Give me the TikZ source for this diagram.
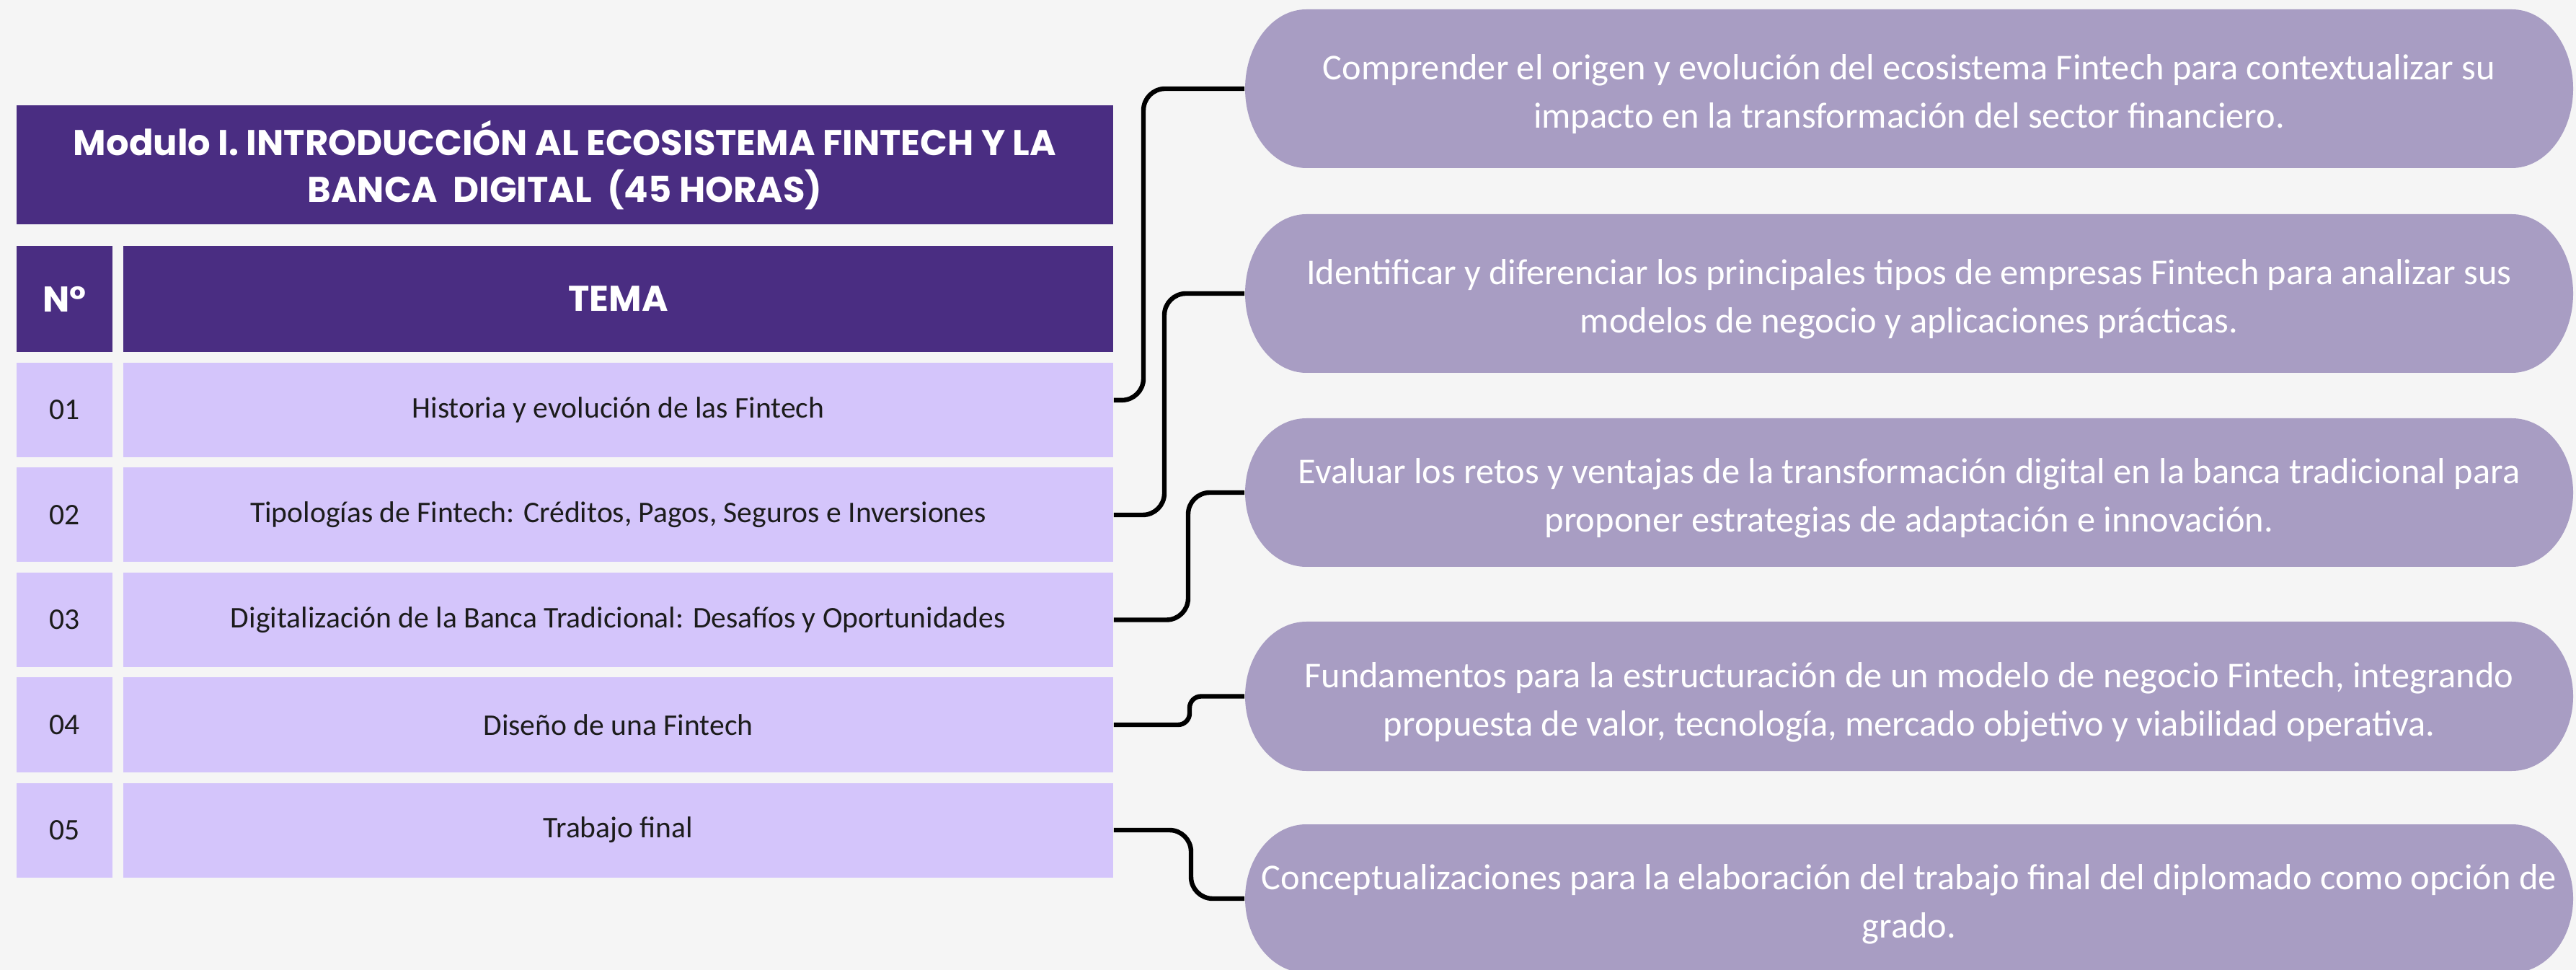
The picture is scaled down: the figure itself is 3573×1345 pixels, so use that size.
\documentclass[tikz,border=0pt]{standalone}
\usepackage{fontspec}
\setmainfont{Carlito}
\newfontfamily\titlefont{Poppins}
\definecolor{bgc}{HTML}{F5F5F5}
\definecolor{darkp}{HTML}{4A2D82}
\definecolor{lavc}{HTML}{D4C5FB}
\definecolor{pillc}{HTML}{A89DC3}
\definecolor{txtc}{HTML}{1C1C1C}
\newcommand\mypill[4]{\fill[pillc] ({#1+85},#2) -- ({#3-85},#2)
  arc[start angle=-90,end angle=90,x radius=85,y radius={(#4-#2)/2}] -- ({#1+85},#4)
  arc[start angle=90,end angle=270,x radius=85,y radius={(#4-#2)/2}] -- cycle;}
\begin{document}
\begin{tikzpicture}[x=0.25pt,y=-0.25pt,
  hdr/.style={fill=darkp,text=white,inner sep=0pt,font=\titlefont\bfseries\fontsize{12.4}{16.25}\selectfont,align=center},
  numcell/.style={fill=lavc,text=txtc,inner sep=0pt,minimum width=33.25pt,minimum height=32.75pt,font=\fontsize{10.4}{12}\selectfont},
  temacell/.style={fill=lavc,text=txtc,inner sep=0pt,minimum width=343.25pt,minimum height=32.75pt,font=\fontsize{10.4}{12}\selectfont},
  pilltext/.style={text=white,inner sep=0pt,minimum width=460.5pt,align=center,yshift=-2pt,font=\fontsize{12.6}{16.75}\selectfont},
  conn/.style={draw=black,line width=1.6pt,rounded corners=7.5pt}]
\useasboundingbox[fill=bgc] (0,0) rectangle (3573,1345);
% left table
\node[hdr,minimum width=380.25pt,minimum height=41.25pt] (title) at (783.5,228.5)
  {Modulo I. INTRODUCCIÓN AL ECOSISTEMA FINTECH Y LA\\BANCA\ \ DIGITAL\ \ (45 HORAS)};
\node[hdr,minimum width=33.25pt,minimum height=36.75pt] (hn) at (89.5,414.5) {N°};
\node[hdr,minimum width=343.25pt,minimum height=36.75pt] (ht) at (857.5,414.5) {TEMA};
\node[numcell] (n1) at (89.5,568.5) {01};
\node[temacell] (t1) at (857.5,568.5) {Historia y evolución de las Fintech};
\node[numcell] (n2) at (89.5,714) {02};
\node[temacell] (t2) at (857.5,714) {Tipologías de Fintech: Créditos, Pagos, Seguros e Inversiones};
\node[numcell] (n3) at (89.5,859.5) {03};
\node[temacell] (t3) at (857.5,859.5) {Digitalización de la Banca Tradicional: Desafíos y Oportunidades};
\node[numcell] (n4) at (89.5,1005) {04};
\node[temacell] (t4) at (857.5,1005) {Diseño de una Fintech};
\node[numcell] (n5) at (89.5,1151) {05};
\node[temacell] (t5) at (857.5,1151) {Trabajo final};
% pills
\mypill{1727}{13}{3569}{233}
\mypill{1727}{297}{3569}{517}
\mypill{1727}{580}{3569}{786}
\mypill{1727}{862}{3569}{1069}
\mypill{1727}{1143}{3569}{1349}
\node[pilltext,minimum height=55pt] (p1) at (2648,123)
  {Comprender el origen y evolución del ecosistema Fintech para contextualizar su\\impacto en la transformación del sector financiero.};
\node[pilltext,minimum height=55pt] (p2) at (2648,407)
  {Identificar y diferenciar los principales tipos de empresas Fintech para analizar sus\\modelos de negocio y aplicaciones prácticas.};
\node[pilltext,minimum height=51.5pt] (p3) at (2648,683)
  {Evaluar los retos y ventajas de la transformación digital en la banca tradicional para\\proponer estrategias de adaptación e innovación.};
\node[pilltext,minimum height=51.75pt] (p4) at (2648,965.5)
  {Fundamentos para la estructuración de un modelo de negocio Fintech, integrando\\propuesta de valor, tecnología, mercado objetivo y viabilidad operativa.};
\node[pilltext,minimum height=51.5pt] (p5) at (2648,1246)
  {Conceptualizaciones para la elaboración del trabajo final del diplomado como opción de\\grado.};
% connectors
\coordinate (c1) at (1586,123);
\coordinate (c2) at (1615,407);
\coordinate (c3) at (1648,683);
\coordinate (c4) at (1650,965.5);
\coordinate (c5) at (1652,1246);
\draw[conn] ([yshift=3.4pt]t1.east) -| (c1) -- (c1 -| p1.west);
\draw[conn] (t2.east) -| (c2) -- (c2 -| p2.west);
\draw[conn] (t3.east) -| (c3) -- (c3 -| p3.west);
\draw[conn,rounded corners=4pt] (t4.east) -| (c4) -- (c4 -| p4.west);
\draw[conn] (t5.east) -| (c5) -- (c5 -| p5.west);
\end{tikzpicture}
\end{document}
